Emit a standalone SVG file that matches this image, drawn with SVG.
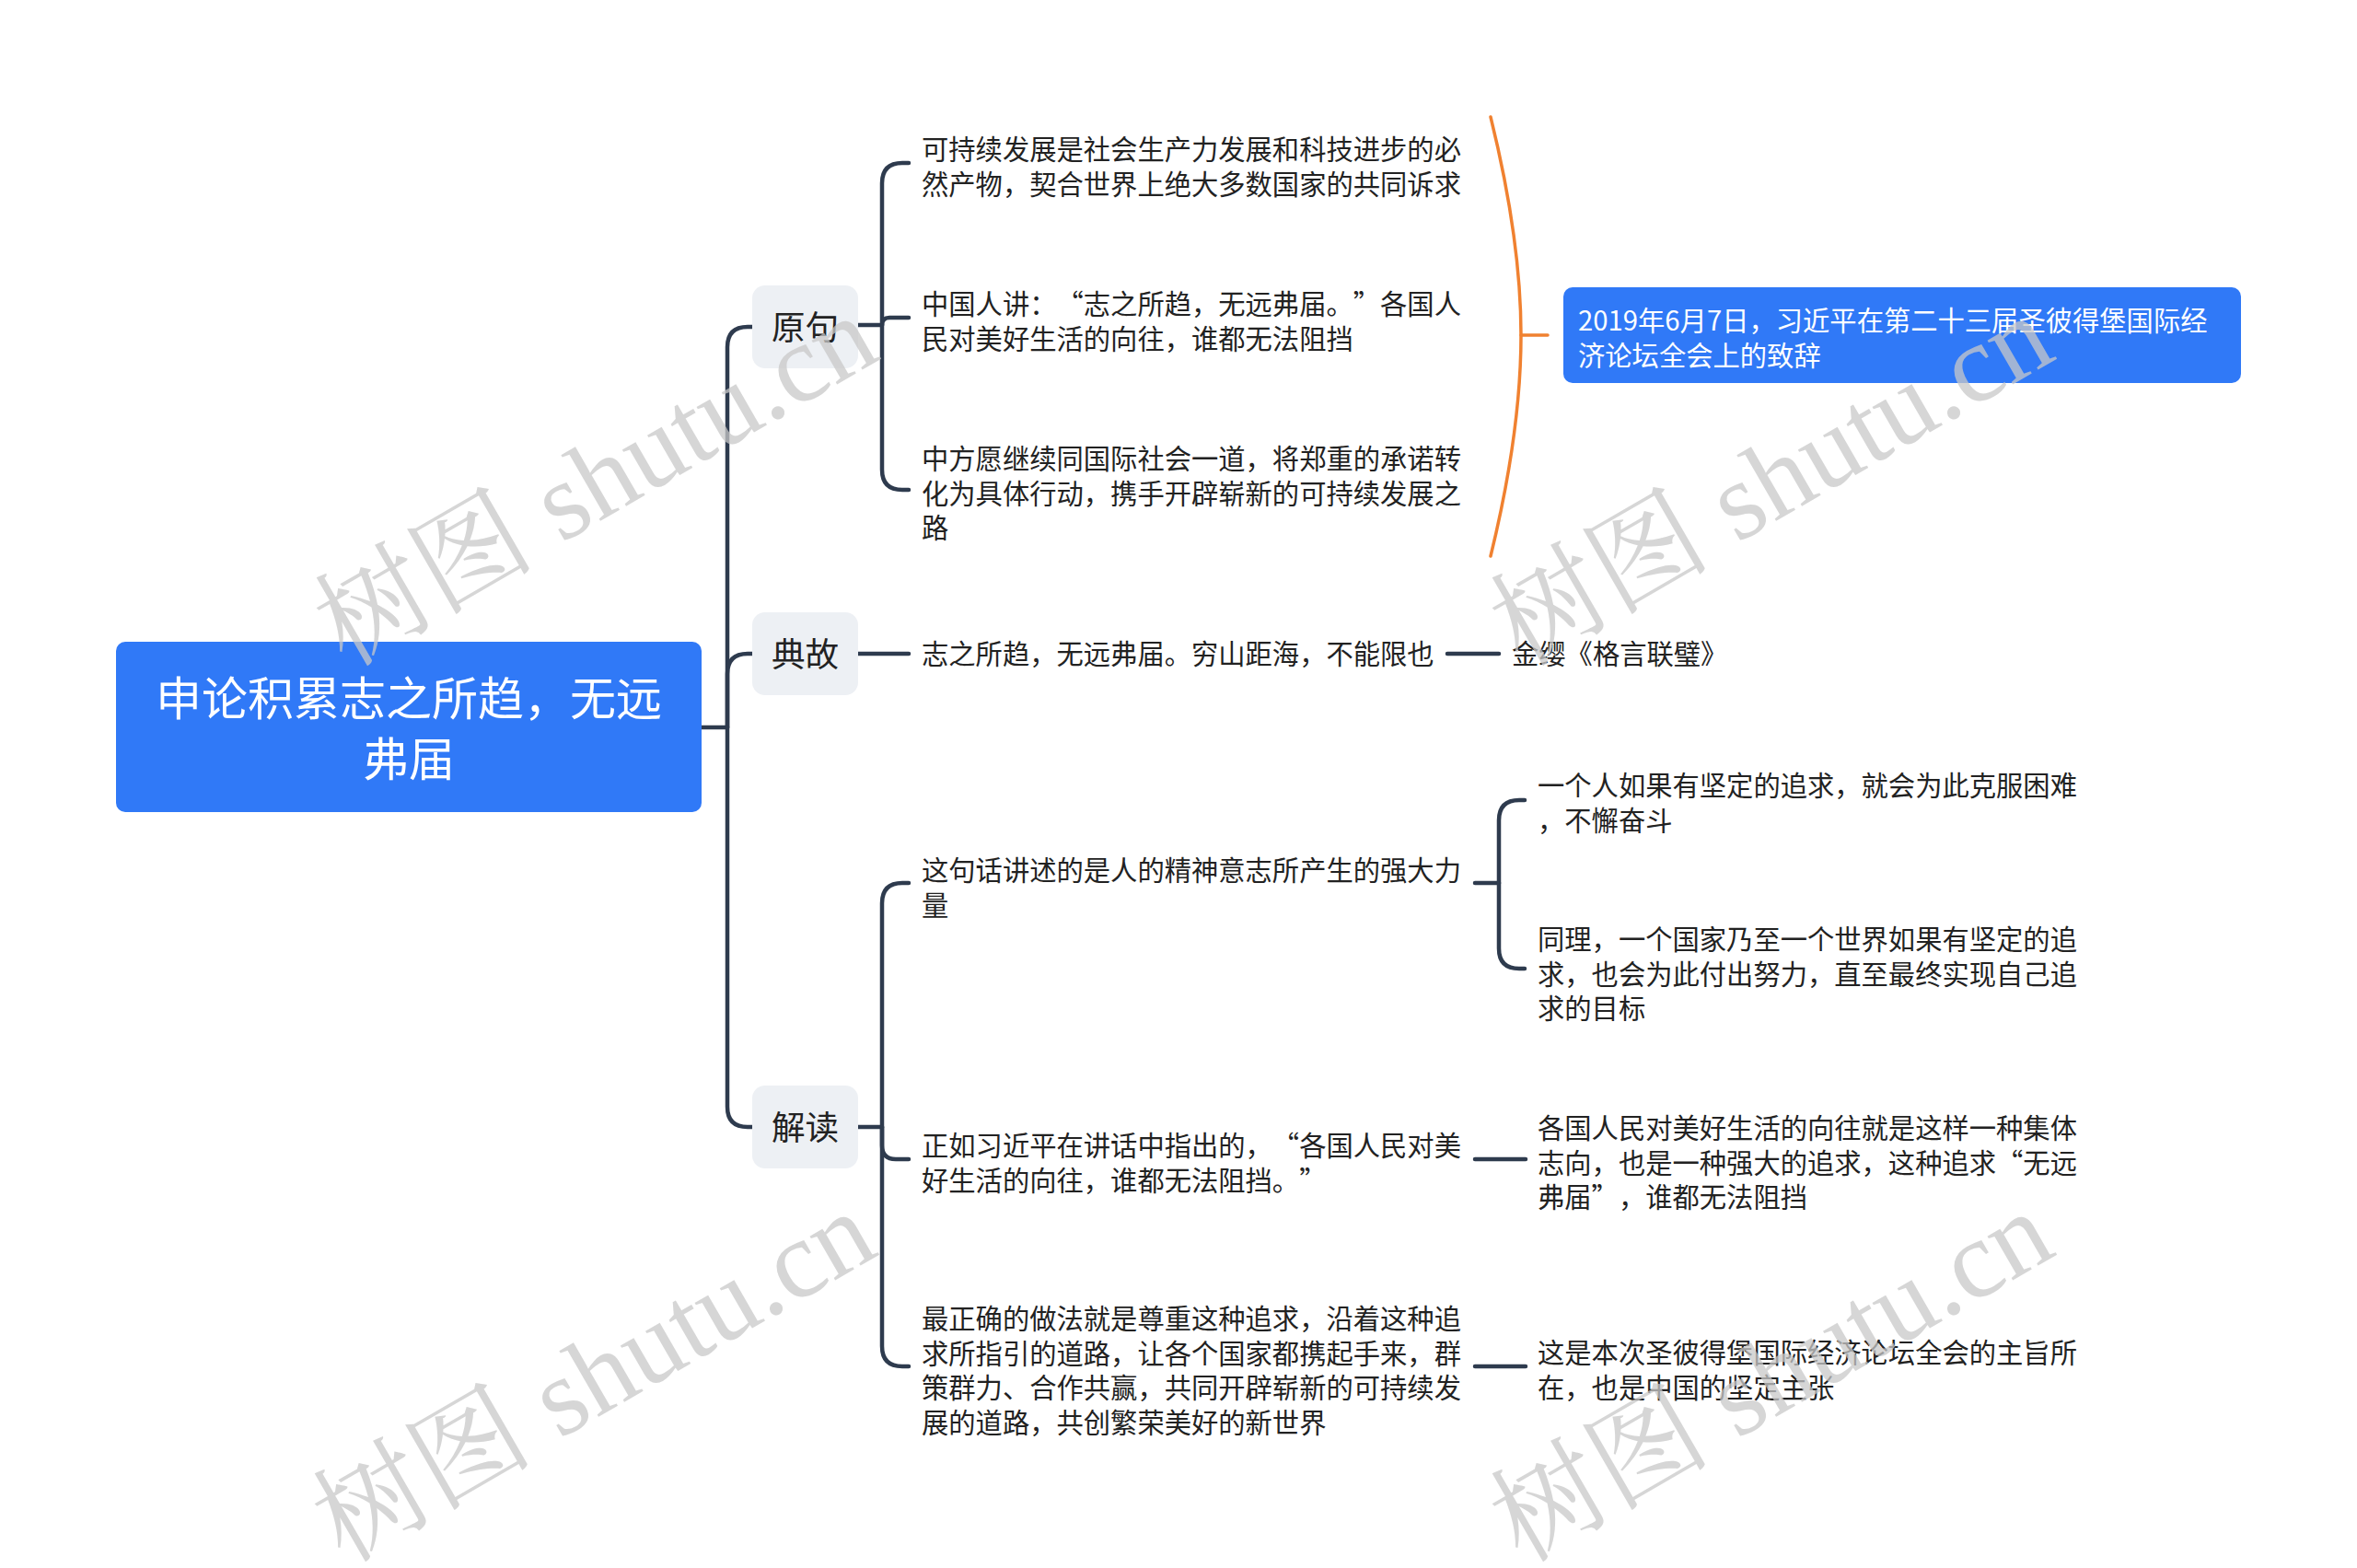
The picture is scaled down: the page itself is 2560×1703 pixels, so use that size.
<svg xmlns="http://www.w3.org/2000/svg" width="2560" height="1703" viewBox="0 0 2560 1703">
<style>
.t{font-family:"Noto Sans CJK SC","Noto Sans",sans-serif;font-size:29.3px;fill:#222;text-spacing-trim:space-all}
.l1{font-family:"Noto Sans CJK SC","Noto Sans",sans-serif;font-size:36.6px;fill:#222;text-anchor:middle}
.rt{font-family:"Noto Sans CJK SC","Noto Sans",sans-serif;font-size:50px;fill:#fff;text-anchor:middle}
.bt{font-family:"Noto Sans CJK SC","Noto Sans",sans-serif;font-size:29.3px;fill:#fff}
.gray{fill:#edf0f4}
.blue{fill:#3079f7}
.c path{fill:none;stroke:#2e3b4e;stroke-width:4.5;stroke-linecap:round;stroke-linejoin:round}
.c path.o{stroke:#f08130;stroke-width:3.5}
.wm{font-family:"Liberation Serif","Noto Serif CJK SC","Noto Sans CJK SC",serif;font-size:120px;fill:#c8c8c8;fill-opacity:0.75;text-anchor:middle;dominant-baseline:central}
</style>
<rect width="2560" height="1703" fill="#fff"/>
<g class="c" id="connectors">
<path d="M762,790 H790"/>
<path d="M790,790 V377 Q790,355 812,355 H817"/>
<path d="M790,790 V732 Q790,710 812,710 H817"/>
<path d="M790,790 V1202 Q790,1224 812,1224 H817"/>
<path d="M932,353 H958"/>
<path d="M958,353 V199 Q958,177 980,177 H987"/>
<path d="M958,353 Q958,345 966,345 H987"/>
<path d="M958,353 V510 Q958,532 980,532 H987"/>
<path d="M932,710 H987"/>
<path d="M1572,710 H1628"/>
<path class="o" d="M1619,127 C1642,220 1652,300 1652,364 C1652,430 1642,510 1619,604"/>
<path class="o" d="M1652,364 H1681"/>
<path d="M932,1224 H958"/>
<path d="M958,1224 V981 Q958,959 980,959 H987"/>
<path d="M958,1224 V1244 Q958,1259 973,1259 H987"/>
<path d="M958,1224 V1462 Q958,1484 980,1484 H987"/>
<path d="M1602,959 H1628"/>
<path d="M1628,959 V891 Q1628,869 1650,869 H1656"/>
<path d="M1628,959 V1030 Q1628,1052 1650,1052 H1656"/>
<path d="M1602,1259 H1657"/>
<path d="M1602,1484 H1657"/>
</g>
<g id="root">
<rect class="blue" x="126" y="697" width="636" height="185" rx="10"/>
<text class="rt" x="444" y="777">申论积累志之所趋，无远</text>
<text class="rt" x="444" y="843">弗届</text>
</g>
<g id="n-yuanju">
<rect class="gray" x="817" y="310" width="115" height="90" rx="14"/>
<text class="l1" x="874.5" y="369">原句</text>
</g>
<g id="n-diangu">
<rect class="gray" x="817" y="665" width="115" height="90" rx="14"/>
<text class="l1" x="874.5" y="724">典故</text>
</g>
<g id="n-jiedu">
<rect class="gray" x="817" y="1179" width="115" height="90" rx="14"/>
<text class="l1" x="874.5" y="1238">解读</text>
</g>
<g id="n-y1">
<text class="t" x="1001" y="173">可持续发展是社会生产力发展和科技进步的必</text>
<text class="t" x="1001" y="210.5">然产物，契合世界上绝大多数国家的共同诉求</text>
</g>
<g id="n-y2">
<text class="t" x="1001" y="341">中国人讲：“志之所趋，无远弗届。”各国人</text>
<text class="t" x="1001" y="378.5">民对美好生活的向往，谁都无法阻挡</text>
</g>
<g id="n-y3">
<text class="t" x="1001" y="509">中方愿继续同国际社会一道，将郑重的承诺转</text>
<text class="t" x="1001" y="546.5">化为具体行动，携手开辟崭新的可持续发展之</text>
<text class="t" x="1001" y="584">路</text>
</g>
<g id="n-source">
<rect class="blue" x="1698" y="312" width="736" height="104" rx="10"/>
<text class="bt" x="1714" y="359">2019年6月7日，习近平在第二十三届圣彼得堡国际经</text>
<text class="bt" x="1714" y="396.5">济论坛全会上的致辞</text>
</g>
<g id="n-d1">
<text class="t" x="1001" y="721">志之所趋，无远弗届。穷山距海，不能限也</text>
</g>
<g id="n-d2">
<text class="t" x="1642" y="721">金缨《格言联璧》</text>
</g>
<g id="n-j1">
<text class="t" x="1001" y="956">这句话讲述的是人的精神意志所产生的强大力</text>
<text class="t" x="1001" y="993.5">量</text>
</g>
<g id="n-j1a">
<text class="t" x="1670" y="864">一个人如果有坚定的追求，就会为此克服困难</text>
<text class="t" x="1670" y="901.5">，不懈奋斗</text>
</g>
<g id="n-j1b">
<text class="t" x="1670" y="1031">同理，一个国家乃至一个世界如果有坚定的追</text>
<text class="t" x="1670" y="1068.5">求，也会为此付出努力，直至最终实现自己追</text>
<text class="t" x="1670" y="1106">求的目标</text>
</g>
<g id="n-j2">
<text class="t" x="1001" y="1255">正如习近平在讲话中指出的，“各国人民对美</text>
<text class="t" x="1001" y="1292.5">好生活的向往，谁都无法阻挡。”</text>
</g>
<g id="n-j2a">
<text class="t" x="1670" y="1236">各国人民对美好生活的向往就是这样一种集体</text>
<text class="t" x="1670" y="1273.5">志向，也是一种强大的追求，这种追求“无远</text>
<text class="t" x="1670" y="1311">弗届”，谁都无法阻挡</text>
</g>
<g id="n-j3">
<text class="t" x="1001" y="1443">最正确的做法就是尊重这种追求，沿着这种追</text>
<text class="t" x="1001" y="1480.5">求所指引的道路，让各个国家都携起手来，群</text>
<text class="t" x="1001" y="1518">策群力、合作共赢，共同开辟崭新的可持续发</text>
<text class="t" x="1001" y="1555.5">展的道路，共创繁荣美好的新世界</text>
</g>
<g id="n-j3a">
<text class="t" x="1670" y="1480">这是本次圣彼得堡国际经济论坛全会的主旨所</text>
<text class="t" x="1670" y="1517.5">在，也是中国的坚定主张</text>
</g>
<g id="watermarks">
<text class="wm" transform="translate(647,522) rotate(-30)">树图 shutu.cn</text>
<text class="wm" transform="translate(1924,522) rotate(-30)">树图 shutu.cn</text>
<text class="wm" transform="translate(645,1495) rotate(-30)">树图 shutu.cn</text>
<text class="wm" transform="translate(1924,1495) rotate(-30)">树图 shutu.cn</text>
</g>
</svg>
